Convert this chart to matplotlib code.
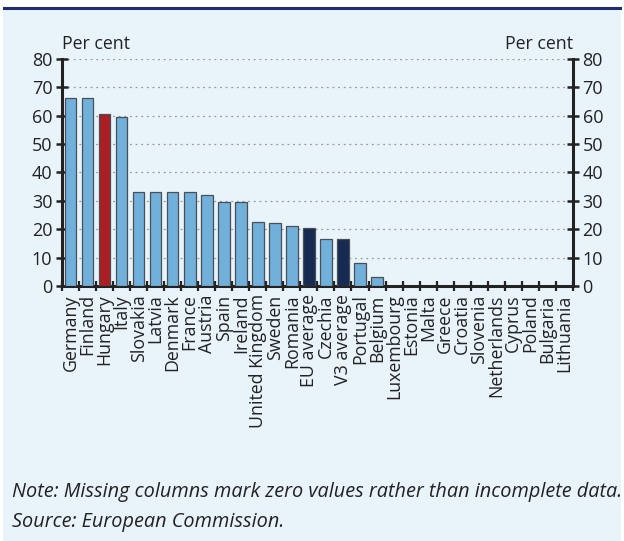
"""
Bar chart: share in per cent by country, with EU and V3 averages
"""

import matplotlib.pyplot as plt
import numpy as np
from matplotlib.lines import Line2D

countries = ['Germany', 'Finland', 'Hungary', 'Italy', 'Slovakia', 'Latvia',
             'Denmark', 'France', 'Austria', 'Spain', 'Ireland',
             'United Kingdom', 'Sweden', 'Romania', 'EU average', 'Czechia',
             'V3 average', 'Portugal', 'Belgium', 'Luxembourg', 'Estonia',
             'Malta', 'Greece', 'Croatia', 'Slovenia', 'Netherlands',
             'Cyprus', 'Poland', 'Bulgaria', 'Lithuania']
values = [66.0, 66.0, 60.4, 59.5, 33.0, 33.0, 33.0, 33.0, 32.0, 29.7, 29.7,
          22.4, 22.1, 21.1, 20.4, 16.6, 16.6, 8.2, 3.3, 0, 0, 0, 0, 0, 0, 0,
          0, 0, 0, 0]
highlight = ['Hungary']
averages = ['EU average', 'V3 average']
yticks = [0, 10, 20, 30, 40, 50, 60, 70, 80]

BG = '#e8f3fa'
LIGHT = '#72b0dc'
RED = '#aa1f24'
NAVY = '#172a52'

plt.rcParams['font.family'] = ['Open Sans', 'DejaVu Sans']

fig = plt.figure(figsize=(6.24, 5.41), dpi=100)
fig.patch.set_facecolor('white')
# light blue panel below the navy rule
fig.patches.append(plt.Rectangle((0.005, 0), 0.99, 0.985, transform=fig.transFigure,
                                 facecolor=BG, edgecolor='none', zorder=-5))
fig.lines.append(Line2D([0.006, 0.994], [0.986, 0.986], transform=fig.transFigure,
                        color='#1f2d6e', lw=2.2, zorder=-4))

ax = fig.add_axes([0.0994, 0.4713, 0.8186, 0.4202])
ax.set_zorder(2)
ax.set_facecolor(BG)

n = len(countries)
x = np.arange(n)
colors = []
for c in countries:
    if c in highlight:
        colors.append(RED)
    elif c in averages:
        colors.append(NAVY)
    else:
        colors.append(LIGHT)

ax.bar(x, values, width=0.68, color=colors, edgecolor='#4a4f55',
       linewidth=0.9, zorder=3)

ax.set_xlim(-0.5, n - 0.5)
ax.set_ylim(0, 80)
ax.set_yticks(yticks)
ax.yaxis.grid(True, linestyle=(0, (1.5, 3)), color='#999999', lw=0.9, zorder=0)

ax.tick_params(axis='y', which='both', left=True, right=True, labelleft=True,
               labelright=True, direction='inout', length=8, width=1.8,
               labelsize=13, colors='#222222', pad=3)

# x ticks sit on the boundaries between columns
ax.set_xticks(np.arange(n + 1) - 0.5)
ax.set_xticklabels([])
ax.set_xticks(x, minor=True)
ax.set_xticklabels(countries, minor=True, rotation=90, fontsize=12.8,
                   color='#222222')
ax.tick_params(axis='x', which='major', direction='inout', length=7, width=1.6,
               color='#222222')
ax.tick_params(axis='x', which='minor', length=0, pad=6)

for side in ['left', 'right', 'bottom']:
    ax.spines[side].set_linewidth(2.2)
    ax.spines[side].set_color('#222222')
ax.spines['top'].set_visible(False)

ax.text(0.0, 1.025, 'Per cent', transform=ax.transAxes, ha='left', va='bottom',
        fontsize=12.8, color='#222222')
ax.text(1.0, 1.025, 'Per cent', transform=ax.transAxes, ha='right', va='bottom',
        fontsize=12.8, color='#222222')

fig.text(0.019, 0.09, 'Note: Missing columns mark zero values rather than incomplete data.',
         style='italic', fontsize=14.3, color='#222222', ha='left', va='center')
fig.text(0.019, 0.036, 'Source: European Commission.',
         style='italic', fontsize=14.3, color='#222222', ha='left', va='center')

fig.savefig('out.png', dpi=100, facecolor=fig.get_facecolor())
plt.close()
